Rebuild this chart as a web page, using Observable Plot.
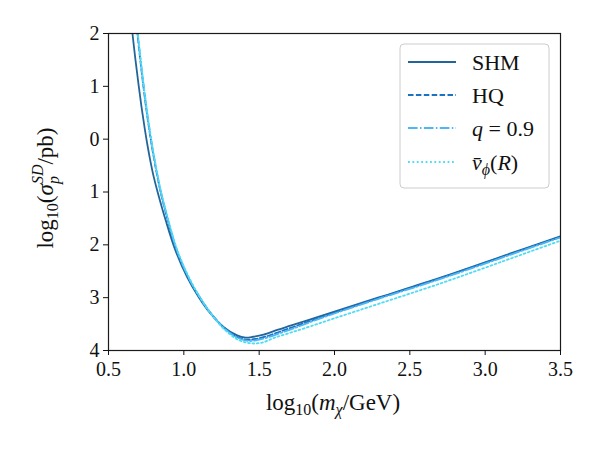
<!DOCTYPE html>
<html>
<head>
<meta charset="utf-8">
<script src="https://cdn.jsdelivr.net/npm/d3@7"></script>
<script src="https://cdn.jsdelivr.net/npm/@observablehq/plot@0.6"></script>
<style>
  body { margin: 0; background: #fff; }
  #chart svg { display: block; }
</style>
</head>
<body>
<div id="chart"></div>
<script>
// Spin-dependent WIMP–proton cross-section limits vs. WIMP mass (log10 units)

// Standard halo model
const shmMass  = [0.645, 0.659, 0.679, 0.699, 0.719, 0.739, 0.759, 0.779, 0.799, 0.825, 0.880, 0.945, 1.022, 1.099, 1.177, 1.265, 1.354, 1.410, 1.460, 1.529, 1.620, 1.708, 1.841, 2.000, 2.300, 2.704, 3.100, 3.500];
const shmSigma = [2.37, 2.00, 1.50, 1.04, 0.61, 0.23, -0.12, -0.43, -0.70, -0.99, -1.54, -2.11, -2.61, -2.99, -3.30, -3.56, -3.715, -3.755, -3.74, -3.70, -3.61, -3.53, -3.41, -3.265, -2.99, -2.62, -2.23, -1.84];

// HQ halo
const hqMass  = [0.679, 0.692, 0.711, 0.730, 0.749, 0.768, 0.787, 0.806, 0.824, 0.845, 0.894, 0.953, 1.028, 1.104, 1.181, 1.268, 1.352, 1.420, 1.480, 1.550, 1.640, 1.720, 1.841, 2.000, 2.300, 2.704, 3.100, 3.500];
const hqSigma = [2.37, 2.00, 1.50, 1.04, 0.61, 0.23, -0.12, -0.43, -0.70, -0.99, -1.54, -2.11, -2.61, -2.99, -3.30, -3.57, -3.74, -3.795, -3.78, -3.73, -3.64, -3.56, -3.44, -3.285, -3.00, -2.63, -2.24, -1.85];

// Flattened halo, q = 0.9
const qMass  = [0.681, 0.694, 0.713, 0.732, 0.751, 0.770, 0.789, 0.808, 0.826, 0.847, 0.896, 0.955, 1.030, 1.106, 1.183, 1.272, 1.357, 1.430, 1.490, 1.560, 1.650, 1.730, 1.841, 2.000, 2.300, 2.704, 3.100, 3.500];
const qSigma = [2.37, 2.00, 1.50, 1.04, 0.61, 0.23, -0.12, -0.43, -0.70, -0.99, -1.54, -2.11, -2.61, -2.99, -3.31, -3.59, -3.76, -3.82, -3.80, -3.75, -3.66, -3.58, -3.46, -3.30, -3.015, -2.645, -2.255, -1.86];

// Rotating halo, mean azimuthal velocity v_phi(R)
const vphiMass  = [0.682, 0.695, 0.714, 0.733, 0.752, 0.771, 0.790, 0.809, 0.827, 0.848, 0.898, 0.958, 1.035, 1.110, 1.190, 1.280, 1.370, 1.450, 1.520, 1.600, 1.700, 1.800, 2.000, 2.300, 2.704, 3.100, 3.500];
const vphiSigma = [2.37, 2.00, 1.50, 1.04, 0.61, 0.23, -0.12, -0.43, -0.70, -0.99, -1.54, -2.11, -2.62, -3.01, -3.34, -3.63, -3.81, -3.865, -3.85, -3.76, -3.67, -3.58, -3.39, -3.11, -2.73, -2.33, -1.92];

const xTicks = [0.5, 1.0, 1.5, 2.0, 2.5, 3.0, 3.5];
const yTicks = [2, 1, 0, -1, -2, -3, -4];

const series = [
  { key: "SHM",  mass: shmMass,  sigma: shmSigma,  color: "#22659b", dash: null },
  { key: "HQ",   mass: hqMass,   sigma: hqSigma,   color: "#1b74c3", dash: "5.5,2.4" },
  { key: "q",    mass: qMass,    sigma: qSigma,    color: "#4db7f3", dash: "9.6,2.4,1.5,2.4" },
  { key: "vphi", mass: vphiMass, sigma: vphiSigma, color: "#4fdcf5", dash: "1.8,2.6" }
];

const serif = "'Liberation Serif', 'Times New Roman', 'DejaVu Serif', serif";
const tickFs = 20;
const labelFs = 23;
const subFs = 16;

const lineMarks = series.map(s =>
  Plot.line(s.mass.map((m, i) => ({ m, s: s.sigma[i] })), {
    x: "m", y: "s",
    stroke: s.color,
    strokeWidth: 1.8,
    strokeDasharray: s.dash,
    curve: "catmull-rom",
    clip: true
  })
);

const chart = Plot.plot({
  width: 600,
  height: 450,
  marginLeft: 108,
  marginRight: 40,
  marginTop: 33,
  marginBottom: 100,
  style: { fontFamily: serif, background: "#fff", color: "#111" },
  x: { domain: [0.5, 3.5] },
  y: { domain: [-4, 2] },
  marks: [
    ...lineMarks,
    Plot.frame({ stroke: "#1a1a1a", strokeWidth: 1.2 }),
    Plot.axisX({ ticks: xTicks, tickFormat: d3.format(".1f"), tickSize: 5, tickPadding: 6, fontSize: tickFs, fontFamily: serif, label: null }),
    Plot.axisY({ ticks: yTicks, tickFormat: d => String(Math.abs(d)), tickSize: 5, tickPadding: 4, fontSize: tickFs, fontFamily: serif, label: null })
  ]
});

document.getElementById("chart").appendChild(chart);

const svg = d3.select(chart);

// x-axis label: log10(m_chi / GeV)
const xl = svg.append("text")
  .attr("x", 333).attr("y", 410)
  .attr("text-anchor", "middle")
  .attr("font-family", serif).attr("font-size", labelFs).attr("fill", "#111");
xl.append("tspan").text("log");
xl.append("tspan").attr("font-size", subFs).attr("dy", 5).text("10");
xl.append("tspan").attr("dy", -5).text("(");
xl.append("tspan").attr("font-style", "italic").text("m");
xl.append("tspan").attr("font-style", "italic").attr("font-size", subFs).attr("dy", 5).text("χ");
xl.append("tspan").attr("dy", -5).text("/GeV)");

// y-axis label: log10(sigma_p^SD / pb)
const yl = svg.append("text")
  .attr("transform", "translate(53,188) rotate(-90)")
  .attr("text-anchor", "middle")
  .attr("font-family", serif).attr("font-size", labelFs).attr("fill", "#111");
yl.append("tspan").text("log");
yl.append("tspan").attr("font-size", subFs).attr("dy", 5).text("10");
yl.append("tspan").attr("dy", -5).text("(");
yl.append("tspan").attr("font-style", "italic").text("σ");
yl.append("tspan").attr("font-style", "italic").attr("font-size", subFs).attr("dy", 6).text("p");
yl.append("tspan").attr("font-style", "italic").attr("font-size", subFs).attr("dx", -8).attr("dy", -16).text("SD");
yl.append("tspan").attr("dy", 10).text("/pb)");

// legend
const lg = svg.append("g").attr("text-anchor", "start");
lg.append("rect")
  .attr("x", 400).attr("y", 44).attr("width", 149).attr("height", 144)
  .attr("rx", 4).attr("fill", "#fff").attr("fill-opacity", 0.85)
  .attr("stroke", "#cccccc").attr("stroke-width", 1);
const rowsY = [62, 95, 128, 162];
series.forEach((s, i) => {
  lg.append("line")
    .attr("x1", 408).attr("x2", 456)
    .attr("y1", rowsY[i]).attr("y2", rowsY[i])
    .attr("stroke", s.color).attr("stroke-width", 1.8)
    .attr("stroke-dasharray", s.dash);
});
const lt = (i) => lg.append("text")
  .attr("x", 472).attr("y", rowsY[i] + 8)
  .attr("text-anchor", "start")
  .attr("font-family", serif).attr("font-size", 22).attr("fill", "#111");
lt(0).text("SHM");
lt(1).text("HQ");
const t2 = lt(2);
t2.append("tspan").attr("font-style", "italic").text("q");
t2.append("tspan").text(" = 0.9");
const t3 = lt(3);
t3.append("tspan").attr("font-style", "italic").text("v\u0304");
t3.append("tspan").attr("font-style", "italic").attr("font-size", subFs).attr("dy", 5).text("ϕ");
t3.append("tspan").attr("dy", -5).text("(");
t3.append("tspan").attr("font-style", "italic").text("R");
t3.append("tspan").text(")");
</script>
</body>
</html>
